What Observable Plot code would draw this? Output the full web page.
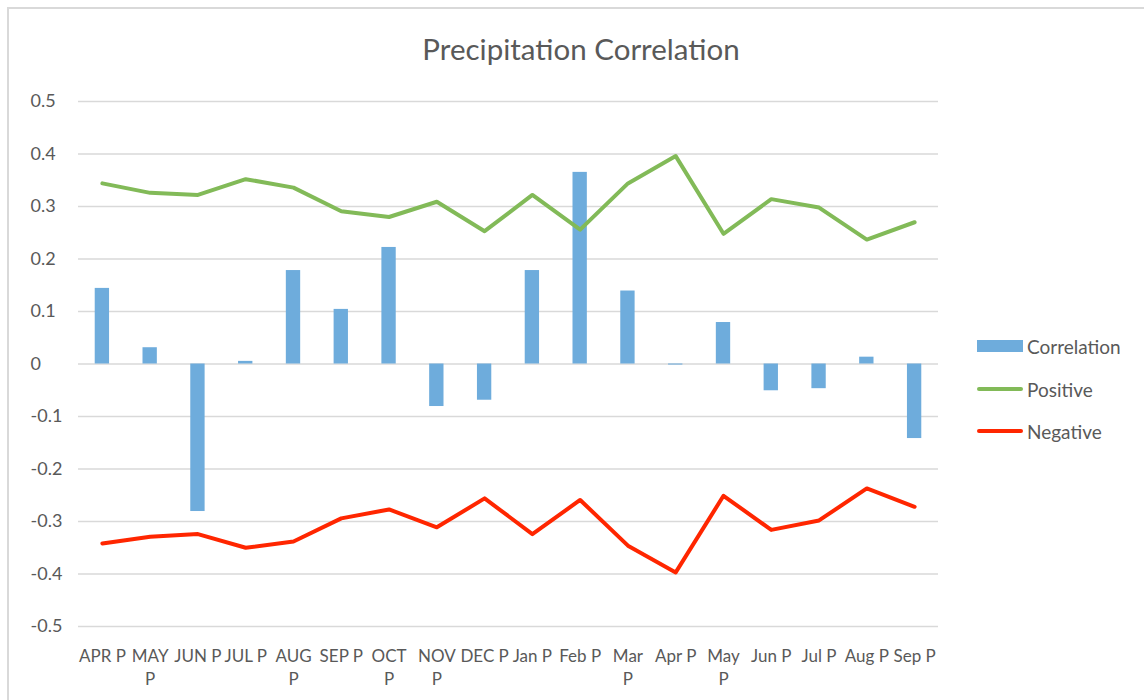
<!DOCTYPE html>
<html>
<head>
<meta charset="utf-8">
<script src="https://cdn.jsdelivr.net/npm/d3@7"></script>
<script src="https://cdn.jsdelivr.net/npm/@observablehq/plot@0.6"></script>
<style>
  html, body { margin: 0; padding: 0; background: #fff; }
  #wrap { position: relative; width: 1144px; height: 700px; overflow: hidden; font-family: Lato, "Open Sans", sans-serif; color: #595959; }
  #border { position: absolute; left: 7px; top: 7px; width: 1150px; height: 700px; border: 2px solid #d9d9d9; box-sizing: border-box; }
  #title { position: absolute; left: 0; width: 1162px; top: 31px; text-align: center; font-size: 29.5px; color: #595959; }
  #chart { position: absolute; left: 0; top: 0; }
  .leg { position: absolute; left: 977px; height: 24px; display: flex; align-items: center; font-size: 19px; color: #595959; }
  .sw { width: 46px; margin-right: 4px; }
</style>
</head>
<body>
<div id="wrap">
  <div id="border"></div>
  <div id="title">Precipitation Correlation</div>
  <div id="chart"></div>
  <div id="legend"></div>
</div>
<script>
const categories = ["APR P","MAY P","JUN P","JUL P","AUG P","SEP P","OCT P","NOV P","DEC P","Jan P","Feb P","Mar P","Apr P","May P","Jun P","Jul P","Aug P","Sep P"];
const tickLabels = ["APR P","MAY\nP","JUN P","JUL P","AUG\nP","SEP P","OCT\nP","NOV\nP","DEC P","Jan P","Feb P","Mar\nP","Apr P","May\nP","Jun P","Jul P","Aug P","Sep P"];
const correlation = [0.144, 0.031, -0.281, 0.005, 0.178, 0.104, 0.222, -0.081, -0.069, 0.178, 0.365, 0.139, -0.002, 0.079, -0.051, -0.047, 0.013, -0.142];
const positive = [0.344, 0.326, 0.322, 0.352, 0.336, 0.291, 0.280, 0.309, 0.253, 0.322, 0.256, 0.344, 0.396, 0.248, 0.314, 0.298, 0.237, 0.270];
const negative = [-0.342, -0.329, -0.324, -0.350, -0.338, -0.294, -0.277, -0.311, -0.256, -0.324, -0.259, -0.346, -0.397, -0.251, -0.316, -0.298, -0.237, -0.272];
const yTicks = [0.5, 0.4, 0.3, 0.2, 0.1, 0, -0.1, -0.2, -0.3, -0.4, -0.5];
const seriesNames = ["Correlation", "Positive", "Negative"];
const colors = {Correlation: "#6eacdc", Positive: "#82ba58", Negative: "#ff2600"};

const rows = categories.map((c, i) => ({cat: c, corr: correlation[i], pos: positive[i], neg: negative[i]}));
const labelOf = new Map(categories.map((c, i) => [c, tickLabels[i]]));

const chart = Plot.plot({
  width: 1144,
  height: 700,
  marginLeft: 78,
  marginRight: 206,
  marginTop: 101,
  marginBottom: 74,
  style: {fontFamily: "Lato, 'Open Sans', sans-serif", color: "#595959", background: "transparent"},
  x: {domain: categories, paddingInner: 0.7, paddingOuter: 0.35, round: false, align: 0.5, label: null},
  y: {domain: [-0.5, 0.5], label: null},
  marks: [
    Plot.ruleY(yTicks, {stroke: "#d9d9d9", strokeWidth: 1.6}),
    Plot.barY(rows, {x: "cat", y: "corr", fill: colors.Correlation}),
    Plot.line(rows, {x: "cat", y: "pos", stroke: colors.Positive, strokeWidth: 4, strokeLinejoin: "round", strokeLinecap: "round"}),
    Plot.line(rows, {x: "cat", y: "neg", stroke: colors.Negative, strokeWidth: 4, strokeLinejoin: "round", strokeLinecap: "round"}),
    Plot.axisY({ticks: yTicks, tickSize: 0, tickPadding: 0, textAnchor: "start", dx: -48, fontSize: 18, fill: "#595959",
      tickFormat: d => d === 0 ? "0" : String(+d.toFixed(1))}),
    Plot.axisX({tickSize: 0, tickPadding: 19, fontSize: 17, fill: "#595959", lineHeight: 1.35,
      tickFormat: d => labelOf.get(d)})
  ]
});
document.getElementById("chart").appendChild(chart);

const legend = document.getElementById("legend");
const legY = [334, 377, 419];
seriesNames.forEach((name, i) => {
  const div = document.createElement("div");
  div.className = "leg";
  div.style.top = legY[i] + "px";
  const sw = document.createElement("div");
  sw.className = "sw";
  if (i === 0) { sw.style.height = "12px"; sw.style.background = colors[name]; }
  else { sw.style.height = "4px"; sw.style.borderRadius = "2px"; sw.style.background = colors[name]; }
  div.appendChild(sw);
  const t = document.createElement("span");
  t.textContent = name;
  div.appendChild(t);
  legend.appendChild(div);
});
</script>
</body>
</html>
